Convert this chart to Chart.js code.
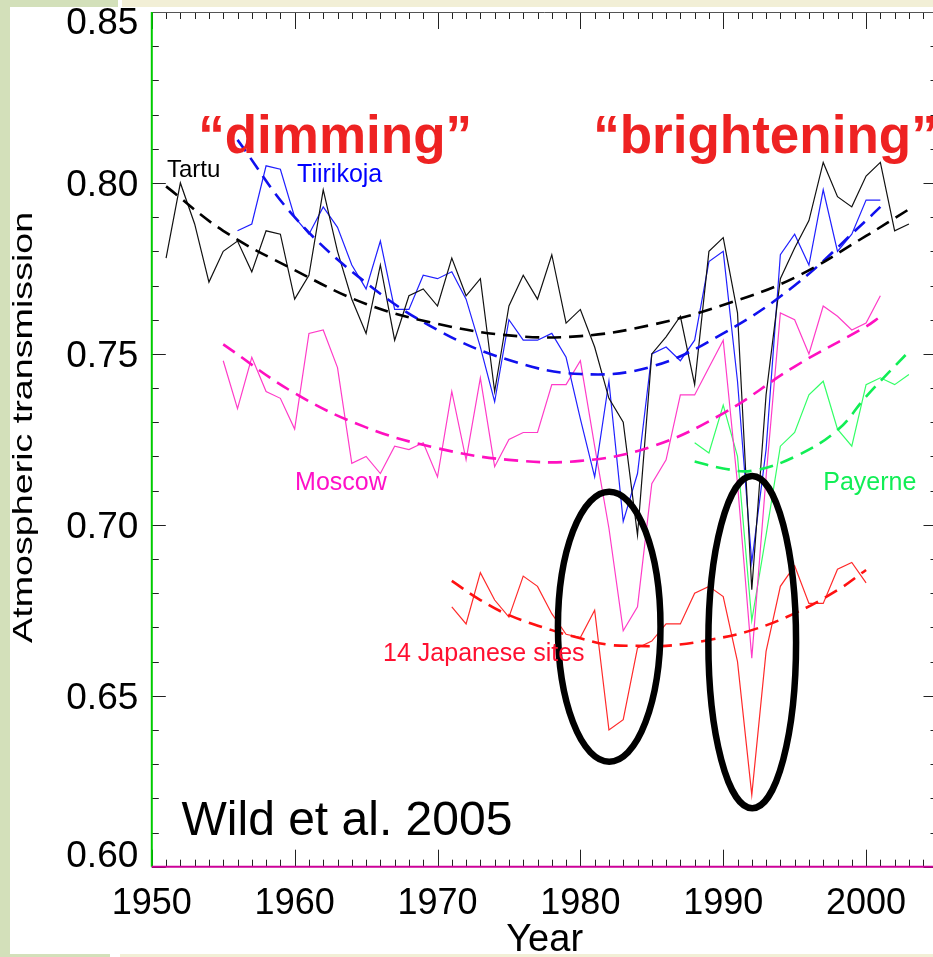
<!DOCTYPE html>
<html>
<head>
<meta charset="utf-8">
<title>Atmospheric transmission - Wild et al. 2005</title>
<script src="https://cdn.jsdelivr.net/npm/chart.js@4.4.1/dist/chart.umd.min.js"></script>
<style>
    html, body { margin: 0; padding: 0; overflow: hidden; background: #ffffff; }
    #wrap { width: 940px; height: 957px; position: relative; }
</style>
</head>
<body>
<div id="wrap"><canvas id="myChart"></canvas></div>
<script>
    // ---------- data ----------
    var xTickValues = [1950, 1960, 1970, 1980, 1990, 2000];
    var yTickValues = [0.60, 0.65, 0.70, 0.75, 0.80, 0.85];

    // annual series (first year + yearly values)
    var tartuStart = 1951;
    var tartuValues = [0.778, 0.800, 0.788, 0.771, 0.780, 0.783, 0.774, 0.786, 0.785, 0.766,
        0.773, 0.798, 0.780, 0.766, 0.756, 0.776, 0.754, 0.767, 0.769, 0.764,
        0.778, 0.767, 0.772, 0.739, 0.764, 0.773, 0.766, 0.779, 0.759, 0.763,
        0.752, 0.737, 0.730, 0.697, 0.750, 0.755, 0.761, 0.741, 0.780, 0.784,
        0.762, 0.681, 0.738, 0.772, 0.781, 0.789, 0.806, 0.796, 0.793, 0.802,
        0.806, 0.786, 0.788];

    var tiirikojaStart = 1956;
    var tiirikojaValues = [0.786, 0.788, 0.805, 0.804, 0.790, 0.785, 0.793, 0.787, 0.776, 0.769,
        0.783, 0.763, 0.763, 0.773, 0.772, 0.774, 0.766, 0.752, 0.736, 0.760,
        0.754, 0.754, 0.756, 0.749, 0.731, 0.714, 0.742, 0.701, 0.715, 0.750,
        0.752, 0.748, 0.754, 0.777, 0.780, 0.742, 0.689, 0.722, 0.779, 0.785,
        0.776, 0.798, 0.780, 0.785, 0.795, 0.795];

    var moscowStart = 1955;
    var moscowValues = [0.748, 0.734, 0.749, 0.739, 0.737, 0.728, 0.756, 0.757, 0.746, 0.718,
        0.720, 0.715, 0.723, 0.722, 0.724, 0.714, 0.739, 0.719, 0.743, 0.717,
        0.725, 0.727, 0.727, 0.741, 0.741, 0.748, 0.723, 0.699, 0.669, 0.676,
        0.712, 0.719, 0.738, 0.738, 0.746, 0.754, 0.712, 0.661, 0.714, 0.762,
        0.760, 0.750, 0.764, 0.761, 0.757, 0.759, 0.767];

    var payerneStart = 1988;
    var payerneValues = [0.724, 0.721, 0.735, 0.720, 0.672, 0.697, 0.723, 0.727, 0.738, 0.742,
        0.728, 0.723, 0.741, 0.743, 0.741, 0.744];

    var japanStart = 1971;
    var japanValues = [0.676, 0.671, 0.686, 0.678, 0.673, 0.685, 0.682, 0.674, 0.668, 0.667,
        0.675, 0.640, 0.643, 0.664, 0.666, 0.671, 0.671, 0.680, 0.682, 0.679,
        0.660, 0.621, 0.663, 0.682, 0.688, 0.677, 0.677, 0.687, 0.689, 0.683];

    // fitted trend curves
    var tartuTrendYears = [1951, 1955, 1960, 1965, 1970, 1975, 1980, 1985, 1990, 1995, 2000, 2003];
    var tartuTrendValues = [0.799, 0.786, 0.7745, 0.7646, 0.7588, 0.7554, 0.7552, 0.7585, 0.7643, 0.7723, 0.7845, 0.7923];

    var tiirikojaTrendYears = [1956, 1960, 1965, 1970, 1975, 1980, 1985, 1990, 1995, 2000, 2001];
    var tiirikojaTrendValues = [0.8126, 0.790, 0.7708, 0.757, 0.7482, 0.7441, 0.7463, 0.756, 0.770, 0.789, 0.793];

    var moscowTrendYears = [1955, 1960, 1965, 1970, 1975, 1980, 1985, 1990, 1995, 2000, 2001];
    var moscowTrendValues = [0.7528, 0.7385, 0.7285, 0.7224, 0.719, 0.7187, 0.7229, 0.7326, 0.7463, 0.758, 0.7609];

    var payerneTrendYears = [1988, 1990, 1992, 1995, 1998, 2000, 2003];
    var payerneTrendValues = [0.7185, 0.7165, 0.7158, 0.7199, 0.7277, 0.7375, 0.7507];

    var japanTrendYears = [1971, 1973, 1975, 1978, 1980, 1982, 1984, 1986, 1989, 1992, 1995, 1998, 2000];
    var japanTrendValues = [0.6836, 0.678, 0.6736, 0.6692, 0.6668, 0.6649, 0.6646, 0.6646, 0.6663, 0.6692, 0.6741, 0.6809, 0.6868];

    // ---------- annotations (not data) ----------
    var labels = [
        { text: 'Tartu', year: 1951.06, value: 0.8018, color: '#000000', font: '24px "Liberation Sans", Arial, sans-serif' },
        { text: 'Tiirikoja', year: 1960.17, value: 0.8004, color: '#0000ff', font: '25px "Liberation Sans", Arial, sans-serif' },
        { text: 'Moscow', year: 1960.03, value: 0.7102, color: '#ff10c8', font: '25px "Liberation Sans", Arial, sans-serif' },
        { text: 'Payerne', year: 1997.0, value: 0.7102, color: '#11ee55', font: '25px "Liberation Sans", Arial, sans-serif' },
        { text: '14 Japanese sites', year: 1966.19, value: 0.6602, color: '#ff1030', font: '25px "Liberation Sans", Arial, sans-serif' },
        { text: '\u201cdimming\u201d', year: 1953.25, value: 0.8088, color: '#ee2222', font: 'bold 53px "Liberation Sans", Arial, sans-serif' },
        { text: '\u201cbrightening\u201d', year: 1980.9, value: 0.8088, color: '#ee2222', font: 'bold 53px "Liberation Sans", Arial, sans-serif' },
        { text: 'Wild et al. 2005', year: 1952.08, value: 0.6093, color: '#000000', font: '48px "Liberation Sans", Arial, sans-serif' }
    ];
    var rings = [
        { year: 1982.02, value: 0.6702, dYear: 3.59, dValue: 0.0395 },
        { year: 1992.03, value: 0.6657, dYear: 3.07, dValue: 0.0486 }
    ];

    function yearly(start, values) {
        return values.map(function(v, i) { return { x: start + i, y: v }; });
    }
    function pairs(years, values) {
        return years.map(function(yr, i) { return { x: yr, y: values[i] }; });
    }
    function solid(data, color) {
        return { data: data, borderColor: color, borderWidth: 1.2, pointRadius: 0, tension: 0, fill: false };
    }
    function dashed(data, color) {
        return { data: data, borderColor: color, borderWidth: 2.6, borderDash: [14, 8], pointRadius: 0, tension: 0.4, fill: false };
    }

    // ---------- frame, ticks, texts ----------
    var decor = {
        id: 'decor',
        beforeDraw: function(chart) {
            var c = chart.ctx;
            c.save();
            c.fillStyle = '#ffffff';
            c.fillRect(0, 0, chart.width, chart.height);
            c.fillStyle = '#d3e0ba';
            c.fillRect(0, 0, 118, 7);
            c.fillRect(0, 0, 10, chart.height);
            c.fillRect(0, 954, 110, 3);
            c.fillStyle = '#f2efd6';
            c.fillRect(122, 0, chart.width - 122, 7);
            c.fillRect(120, 954, chart.width - 120, 3);
            c.restore();
        },
        afterDatasetsDraw: function(chart) {
            var c = chart.ctx, xs = chart.scales.x, ys = chart.scales.y;
            c.save();
            // ellipses
            c.strokeStyle = '#000000';
            c.lineWidth = 6.5;
            rings.forEach(function(r) {
                var cx = xs.getPixelForValue(r.year), cy = ys.getPixelForValue(r.value);
                var rx = Math.abs(xs.getPixelForValue(r.year + r.dYear) - cx);
                var ry = Math.abs(ys.getPixelForValue(r.value + r.dValue) - cy);
                c.beginPath();
                c.ellipse(cx, cy, rx, ry, 0, 0, Math.PI * 2);
                c.stroke();
            });
            // text labels
            c.textAlign = 'left';
            c.textBaseline = 'alphabetic';
            labels.forEach(function(t) {
                c.font = t.font;
                c.fillStyle = t.color;
                c.fillText(t.text, xs.getPixelForValue(t.year), ys.getPixelForValue(t.value));
            });
            c.restore();
        },
        afterDraw: function(chart) {
            var c = chart.ctx, a = chart.chartArea, xs = chart.scales.x, ys = chart.scales.y;
            var i, px, py, len;
            c.save();
            // ticks
            c.strokeStyle = '#222222';
            c.lineWidth = 1;
            c.beginPath();
            for (i = 1950; i <= 2005; i++) {
                px = Math.round(xs.getPixelForValue(i)) + 0.5;
                len = (i % 10 === 0) ? 17 : 7;
                c.moveTo(px, a.bottom); c.lineTo(px, a.bottom - len);
                c.moveTo(px, a.top); c.lineTo(px, a.top + len);
            }
            for (i = 60; i <= 85; i++) {
                py = Math.round(ys.getPixelForValue(i / 100)) + 0.5;
                len = (i % 5 === 0) ? 14 : 7;
                c.moveTo(a.left, py); c.lineTo(a.left + len, py);
                c.moveTo(a.right, py); c.lineTo(a.right - len, py);
            }
            c.stroke();
            // box
            c.lineWidth = 1;
            c.strokeStyle = '#555555';
            c.beginPath();
            c.moveTo(a.left, a.top + 0.5); c.lineTo(a.right, a.top + 0.5);
            c.moveTo(a.right - 0.5, a.top); c.lineTo(a.right - 0.5, a.bottom);
            c.stroke();
            c.lineWidth = 2;
            c.strokeStyle = '#00cc00';
            c.beginPath();
            c.moveTo(a.left, a.top); c.lineTo(a.left, a.bottom);
            c.stroke();
            c.strokeStyle = '#cc0099';
            c.beginPath();
            c.moveTo(a.left, a.bottom); c.lineTo(a.right, a.bottom);
            c.stroke();
            // y tick labels
            c.fillStyle = '#000000';
            c.font = '37px "Liberation Sans", Arial, sans-serif';
            c.textAlign = 'right';
            c.textBaseline = 'alphabetic';
            yTickValues.forEach(function(v) {
                var base = ys.getPixelForValue(v) + 13.5;
                base = Math.min(Math.max(base, a.top + 22), a.bottom);
                c.fillText(v.toFixed(2), a.left - 13.5, base);
            });
            // y title (stretched along its length like the original)
            c.translate(32, (a.top + a.bottom) / 2 - 12);
            c.rotate(-Math.PI / 2);
            c.scale(1.345, 1);
            c.font = '28px "Liberation Sans", Arial, sans-serif';
            c.textAlign = 'center';
            c.fillText('Atmospheric transmission', 0, 0);
            c.restore();
        }
    };

    var ctx = document.getElementById('myChart');
    var myChart = new Chart(ctx, {
        type: 'line',
        data: {
            datasets: [
                dashed(pairs(tartuTrendYears, tartuTrendValues), '#000000'),
                dashed(pairs(tiirikojaTrendYears, tiirikojaTrendValues), '#1010ee'),
                dashed(pairs(moscowTrendYears, moscowTrendValues), '#ff10c0'),
                dashed(pairs(payerneTrendYears, payerneTrendValues), '#11ee55'),
                dashed(pairs(japanTrendYears, japanTrendValues), '#ff1111'),
                solid(yearly(tartuStart, tartuValues), '#111111'),
                solid(yearly(tiirikojaStart, tiirikojaValues), '#2020ff'),
                solid(yearly(moscowStart, moscowValues), '#ff3cc8'),
                solid(yearly(payerneStart, payerneValues), '#33ff66'),
                solid(yearly(japanStart, japanValues), '#ff2a2a')
            ]
        },
        options: {
            responsive: true,
            maintainAspectRatio: false,
            animation: false,
            devicePixelRatio: 1,
            layout: { padding: { left: 0, right: 2.5, top: 12, bottom: 0 } },
            plugins: {
                legend: { display: false },
                tooltip: { enabled: false }
            },
            scales: {
                x: {
                    type: 'linear',
                    min: 1950,
                    max: 2005,
                    grid: { display: false, drawTicks: false },
                    border: { display: false },
                    afterBuildTicks: function(scale) {
                        scale.ticks = xTickValues.map(function(v) { return { value: v }; });
                    },
                    afterFit: function(scale) { scale.height = 90.3; },
                    ticks: {
                        autoSkip: false,
                        maxRotation: 0,
                        padding: 16,
                        color: '#000000',
                        font: { family: '"Liberation Sans", Arial, sans-serif', size: 36, lineHeight: 1.2 },
                        callback: function(v) { return String(v); }
                    },
                    title: {
                        display: true,
                        text: 'Year',
                        color: '#000000',
                        padding: { top: 0, bottom: -3 },
                        font: { family: '"Liberation Sans", Arial, sans-serif', size: 38, lineHeight: 1 }
                    }
                },
                y: {
                    type: 'linear',
                    min: 0.60,
                    max: 0.85,
                    grid: { display: false, drawTicks: false },
                    border: { display: false },
                    ticks: { display: false },
                    afterFit: function(scale) { scale.width = 151.8; }
                }
            }
        },
        plugins: [decor]
    });
</script>
</body>
</html>
